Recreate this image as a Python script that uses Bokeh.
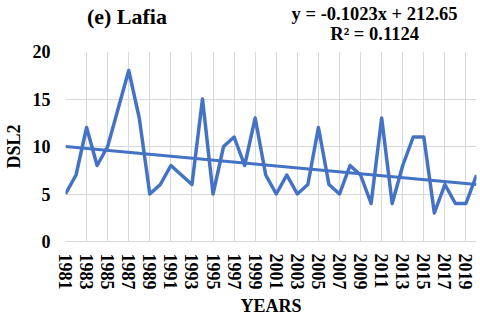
import math
from bokeh.plotting import figure
from bokeh.layouts import column
from bokeh.models import Range1d, FixedTicker, Label
from bokeh.embed import file_html
from bokeh.resources import INLINE

years = list(range(1981, 2021))
dsl2 = [5, 7, 12, 8, 10, 14, 18, 13, 5, 6,
        8, 7, 6, 15, 5, 10, 11, 8, 13, 7,
        5, 7, 5, 6, 12, 6, 5, 8, 7, 4,
        13, 4, 8, 11, 11, 3, 6, 4, 4, 7]
y_ticks = [0, 5, 10, 15, 20]
x_ticks = years[::2]
slope = -0.1023
intercept = 212.65
title_text = "(e) Lafia"
eq_text = "y = -0.1023x + 212.65"
r2_text = "R² = 0.1124"

FONT = "Liberation Serif"
BLUE = "#4472C4"
GRID = "#d9d9d9"
W = 480
HEAD_H = 43
MAIN_H = 318 - HEAD_H

# header strip holding the panel title and the trend-line equation
head = figure(width=W, height=HEAD_H, output_backend="svg", toolbar_location=None,
              x_range=Range1d(0, W), y_range=Range1d(HEAD_H, 0),
              x_axis_type=None, y_axis_type=None,
              min_border_left=0, min_border_right=0, min_border_top=0, min_border_bottom=0)
head.outline_line_color = None
head.grid.visible = False
head.background_fill_color = "white"
head.border_fill_color = "white"
head.add_layout(Label(x=25, y=15.5, text=title_text, text_font=FONT, text_font_style="bold",
                      text_font_size="22px", text_align="left", text_baseline="alphabetic",
                      text_color="black"))
head.add_layout(Label(x=361, y=13.3, text=eq_text, text_font=FONT, text_font_style="bold",
                      text_font_size="18.5px", text_align="center", text_baseline="alphabetic",
                      text_color="black"))
head.add_layout(Label(x=361, y=33.5, text=r2_text, text_font=FONT, text_font_style="bold",
                      text_font_size="18.5px", text_align="center", text_baseline="alphabetic",
                      text_color="black"))

p = figure(width=W, height=MAIN_H, output_backend="svg", toolbar_location=None,
           x_range=Range1d(years[0], years[-1]), y_range=Range1d(0, 20),
           min_border_left=64, min_border_right=4, min_border_top=8, min_border_bottom=0)
p.outline_line_color = None
p.background_fill_color = "white"
p.border_fill_color = "white"

p.xaxis.ticker = FixedTicker(ticks=x_ticks)
p.yaxis.ticker = FixedTicker(ticks=y_ticks)
p.xgrid.grid_line_color = GRID
p.ygrid.grid_line_color = GRID
p.xgrid.grid_line_width = 1
p.ygrid.grid_line_width = 1

for ax in (p.xaxis[0], p.yaxis[0]):
    ax.major_tick_line_color = None
    ax.minor_tick_line_color = None
    ax.major_tick_out = 0
    ax.major_tick_in = 0
    ax.major_label_text_font = FONT
    ax.major_label_text_font_style = "bold"
    ax.major_label_text_font_size = "18px"
    ax.major_label_text_color = "black"
    ax.axis_label_text_font = FONT
    ax.axis_label_text_font_style = "bold"
    ax.axis_label_text_font_size = "18px"
    ax.axis_label_text_color = "black"

p.xaxis.axis_line_color = GRID
p.yaxis.axis_line_color = None
p.xaxis.major_label_orientation = -math.pi / 2
p.xaxis.major_label_standoff = 12
p.xaxis.axis_label = "YEARS"
p.xaxis.axis_label_standoff = 3
p.yaxis.major_label_standoff = 15
p.yaxis.axis_label = "DSL2"
p.yaxis.axis_label_standoff = 6

p.line(years, dsl2, line_color=BLUE, line_width=3.5, line_join="round")
trend_x = [years[0], years[-1]]
trend_y = [slope * x + intercept for x in trend_x]
p.line(trend_x, trend_y, line_color=BLUE, line_width=3)

page = column(head, p, spacing=0)
open("out.html", "w").write(file_html(page, INLINE))
